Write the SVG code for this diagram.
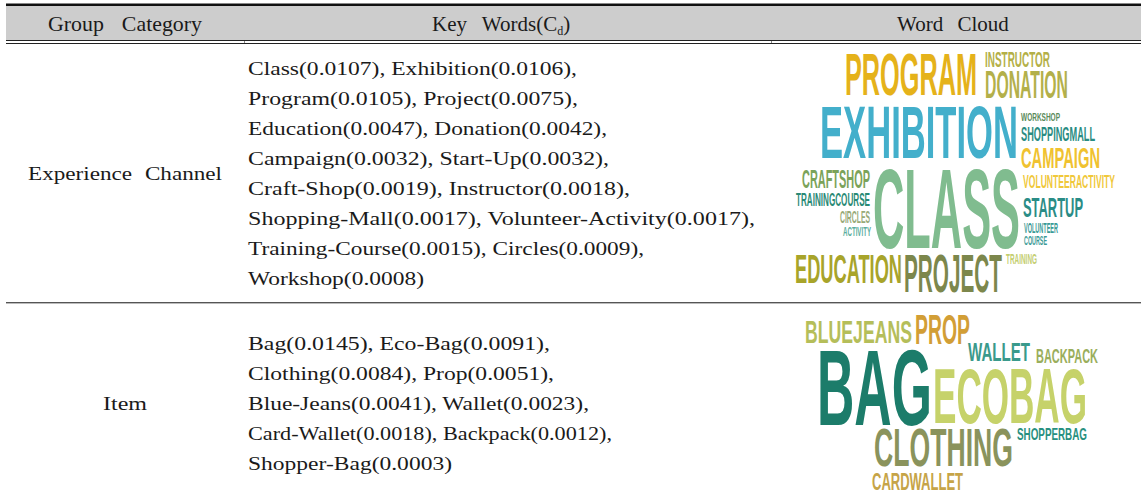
<svg xmlns="http://www.w3.org/2000/svg" width="1141" height="500" viewBox="0 0 1141 500">
<style>
.t{font-family:"Liberation Serif","Times New Roman",serif;font-size:19.5px;fill:#1a1a1a}
.h{font-family:"Liberation Serif","Times New Roman",serif;font-size:21px;fill:#1a1a1a}
.w{font-family:"Liberation Sans",Arial,sans-serif;font-weight:bold}
</style>
<rect x="0" y="0" width="1141" height="500" fill="#ffffff"/>
<g id="table-lines">
<rect x="6" y="6" width="1135" height="34" fill="#cdcdcd"/>
<rect x="6" y="3.5" width="1135" height="2.5" fill="#111111"/>
<rect x="6" y="40" width="1135" height="1" fill="#222222"/>
<rect x="6" y="43" width="1135" height="1" fill="#222222"/>
<rect x="244" y="41" width="1" height="2" fill="#888888"/>
<rect x="771" y="41" width="1" height="2" fill="#888888"/>
<rect x="6" y="302" width="1135" height="1.4" fill="#555555"/>
</g>
<g id="header">
<text class="h" x="48" y="31" textLength="154" lengthAdjust="spacingAndGlyphs" word-spacing="12">Group Category</text>
<text class="h" x="432" y="31" word-spacing="10">Key Words(C<tspan font-size="12" dy="4">d</tspan><tspan dy="-4">)</tspan></text>
<text class="h" x="897" y="31" word-spacing="9">Word Cloud</text>
</g>
<g id="row-experience">
<text class="t" x="28" y="180" textLength="194" lengthAdjust="spacingAndGlyphs" word-spacing="6">Experience Channel</text>
<text class="t" x="248" y="75" textLength="329" lengthAdjust="spacingAndGlyphs">Class(0.0107), Exhibition(0.0106),</text>
<text class="t" x="248" y="105" textLength="330" lengthAdjust="spacingAndGlyphs">Program(0.0105), Project(0.0075),</text>
<text class="t" x="248" y="135" textLength="359" lengthAdjust="spacingAndGlyphs">Education(0.0047), Donation(0.0042),</text>
<text class="t" x="248" y="165" textLength="361" lengthAdjust="spacingAndGlyphs">Campaign(0.0032), Start-Up(0.0032),</text>
<text class="t" x="248" y="195" textLength="382" lengthAdjust="spacingAndGlyphs">Craft-Shop(0.0019), Instructor(0.0018),</text>
<text class="t" x="248" y="225" textLength="507" lengthAdjust="spacingAndGlyphs">Shopping-Mall(0.0017), Volunteer-Activity(0.0017),</text>
<text class="t" x="248" y="255" textLength="396" lengthAdjust="spacingAndGlyphs">Training-Course(0.0015), Circles(0.0009),</text>
<text class="t" x="248" y="285" textLength="176" lengthAdjust="spacingAndGlyphs">Workshop(0.0008)</text>
</g>
<g id="cloud-experience">
<text class="w" x="845" y="95" font-size="59" textLength="132" lengthAdjust="spacingAndGlyphs" fill="#e5b21a">PROGRAM</text>
<text class="w" x="985" y="67" font-size="22" textLength="65" lengthAdjust="spacingAndGlyphs" fill="#b4b048">INSTRUCTOR</text>
<text class="w" x="985" y="98" font-size="39" textLength="83" lengthAdjust="spacingAndGlyphs" fill="#b3b04a">DONATION</text>
<text class="w" x="820" y="158" font-size="75" textLength="198" lengthAdjust="spacingAndGlyphs" fill="#43afcb">EXHIBITION</text>
<text class="w" x="1021" y="121" font-size="11" textLength="39" lengthAdjust="spacingAndGlyphs" fill="#5a8a5a">WORKSHOP</text>
<text class="w" x="1021" y="141" font-size="20" textLength="74" lengthAdjust="spacingAndGlyphs" fill="#2a8c82">SHOPPINGMALL</text>
<text class="w" x="1021" y="168" font-size="29" textLength="79" lengthAdjust="spacingAndGlyphs" fill="#f0c230">CAMPAIGN</text>
<text class="w" x="802" y="188" font-size="26" textLength="68" lengthAdjust="spacingAndGlyphs" fill="#7ba35a">CRAFTSHOP</text>
<text class="w" x="873" y="248" font-size="113" textLength="147" lengthAdjust="spacingAndGlyphs" fill="#80bc8f">CLASS</text>
<text class="w" x="1023" y="188" font-size="18" textLength="92" lengthAdjust="spacingAndGlyphs" fill="#f0c83a">VOLUNTEERACTIVITY</text>
<text class="w" x="796" y="206" font-size="18" textLength="74" lengthAdjust="spacingAndGlyphs" fill="#2a8a76">TRAININGCOURSE</text>
<text class="w" x="1023" y="217" font-size="28" textLength="60" lengthAdjust="spacingAndGlyphs" fill="#2a8c86">STARTUP</text>
<text class="w" x="840" y="223" font-size="17" textLength="30" lengthAdjust="spacingAndGlyphs" fill="#98aa78">CIRCLES</text>
<text class="w" x="843" y="236" font-size="12.5" textLength="28" lengthAdjust="spacingAndGlyphs" fill="#5aae9e">ACTIVITY</text>
<text class="w" x="1024" y="233" font-size="14" textLength="34" lengthAdjust="spacingAndGlyphs" fill="#3a9a96">VOLUNTEER</text>
<text class="w" x="1024" y="245" font-size="12.5" textLength="23" lengthAdjust="spacingAndGlyphs" fill="#3a9a96">COURSE</text>
<text class="w" x="1006" y="264" font-size="14" textLength="31" lengthAdjust="spacingAndGlyphs" fill="#c4ce70">TRAINING</text>
<text class="w" x="795" y="283" font-size="40" textLength="107" lengthAdjust="spacingAndGlyphs" fill="#a8a42a">EDUCATION</text>
<text class="w" x="904" y="292" font-size="53" textLength="98" lengthAdjust="spacingAndGlyphs" fill="#7c874c">PROJECT</text>
</g>
<g id="row-item">
<text class="t" x="103" y="410" textLength="44" lengthAdjust="spacingAndGlyphs">Item</text>
<text class="t" x="248" y="350" textLength="302" lengthAdjust="spacingAndGlyphs">Bag(0.0145), Eco-Bag(0.0091),</text>
<text class="t" x="248" y="380" textLength="306" lengthAdjust="spacingAndGlyphs">Clothing(0.0084), Prop(0.0051),</text>
<text class="t" x="248" y="410" textLength="341" lengthAdjust="spacingAndGlyphs">Blue-Jeans(0.0041), Wallet(0.0023),</text>
<text class="t" x="248" y="440" textLength="364" lengthAdjust="spacingAndGlyphs">Card-Wallet(0.0018), Backpack(0.0012),</text>
<text class="t" x="248" y="470" textLength="204" lengthAdjust="spacingAndGlyphs">Shopper-Bag(0.0003)</text>
</g>
<g id="cloud-item">
<text class="w" x="805" y="343" font-size="32" textLength="107" lengthAdjust="spacingAndGlyphs" fill="#b5be5a">BLUEJEANS</text>
<text class="w" x="915" y="344" font-size="43" textLength="55" lengthAdjust="spacingAndGlyphs" fill="#d29e36">PROP</text>
<text class="w" x="968" y="361" font-size="26.5" textLength="62" lengthAdjust="spacingAndGlyphs" fill="#3a9a8c">WALLET</text>
<text class="w" x="1036" y="363" font-size="21" textLength="62" lengthAdjust="spacingAndGlyphs" fill="#9aae5c">BACKPACK</text>
<text class="w" x="817" y="425" font-size="107" textLength="115" lengthAdjust="spacingAndGlyphs" fill="#1c7c6a">BAG</text>
<text class="w" x="933" y="423" font-size="78" textLength="154" lengthAdjust="spacingAndGlyphs" fill="#c6d26a">ECOBAG</text>
<text class="w" x="1017" y="440" font-size="17" textLength="70" lengthAdjust="spacingAndGlyphs" fill="#289080">SHOPPERBAG</text>
<text class="w" x="874" y="466" font-size="53" textLength="139" lengthAdjust="spacingAndGlyphs" fill="#8a935c">CLOTHING</text>
<text class="w" x="872" y="490" font-size="24" textLength="91" lengthAdjust="spacingAndGlyphs" fill="#c6a448">CARDWALLET</text>
</g>
</svg>
